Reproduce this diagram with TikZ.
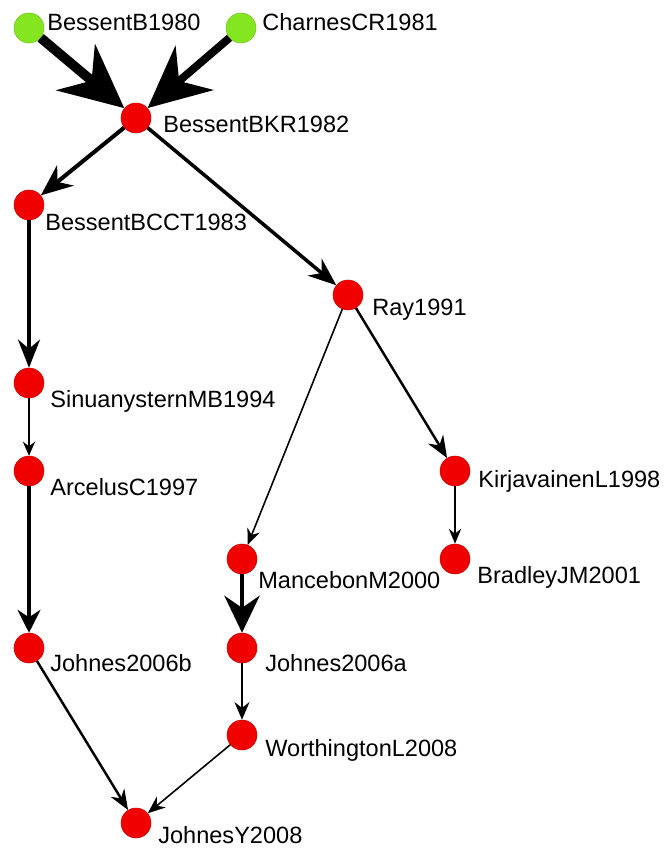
\documentclass[tikz,border=0pt]{standalone}
\usepackage{fontspec}
\setmainfont{Liberation Sans}
\definecolor{seedgreen}{RGB}{132,230,32}
\definecolor{citered}{RGB}{240,0,0}
\usetikzlibrary{arrows.meta}

\begin{document}
\begin{tikzpicture}[every node/.style={font=\fontsize{13.4}{16}\selectfont},
    seed/.style={circle, fill=seedgreen, draw=seedgreen!85!black, line width=0.3pt, minimum size=0.6cm, inner sep=0pt},
    paper/.style={circle, fill=citered, draw=citered!85!black, line width=0.3pt, minimum size=0.6cm, inner sep=0pt},
    tag/.style={anchor=base west, inner sep=0pt},
    flow/.style n args={3}{line width=#1, -{Stealth[length=#2, width=#3]}}]
    \useasboundingbox (0,0) rectangle (13.28,-16.98);

    % Sources
    \node[seed] (bes80) at (0.58,-0.56) {};
    \node[tag] (bes80t) at (0.94,-0.61) {BessentB1980};
    \node[seed] (cha81) at (4.82,-0.56) {};
    \node[tag] (cha81t) at (5.24,-0.61) {CharnesCR1981};

    % Main path papers
    \node[paper] (bkr82) at (2.72,-2.36) {};
    \node[tag] (bkr82t) at (3.26,-2.65) {BessentBKR1982};
    \node[paper] (bcc83) at (0.58,-4.10) {};
    \node[tag] (bcc83t) at (0.90,-4.61) {BessentBCCT1983};
    \node[paper] (ray91) at (6.96,-5.90) {};
    \node[tag] (ray91t) at (7.44,-6.31) {Ray1991};
    \node[paper] (sin94) at (0.58,-7.66) {};
    \node[tag] (sin94t) at (1.00,-8.15) {SinuanysternMB1994};
    \node[paper] (arc97) at (0.58,-9.42) {};
    \node[tag] (arc97t) at (1.00,-9.91) {ArcelusC1997};
    \node[paper] (kir98) at (9.10,-9.42) {};
    \node[tag] (kir98t) at (9.56,-9.75) {KirjavainenL1998};
    \node[paper] (man00) at (4.84,-11.18) {};
    \node[tag] (man00t) at (5.16,-11.77) {MancebonM2000};
    \node[paper] (bra01) at (9.10,-11.18) {};
    \node[tag] (bra01t) at (9.54,-11.67) {BradleyJM2001};
    \node[paper] (joh06b) at (0.58,-12.96) {};
    \node[tag] (joh06bt) at (1.00,-13.43) {Johnes2006b};
    \node[paper] (joh06a) at (4.84,-12.96) {};
    \node[tag] (joh06at) at (5.30,-13.43) {Johnes2006a};
    \node[paper] (wor08) at (4.84,-14.70) {};
    \node[tag] (wor08t) at (5.30,-15.13) {WorthingtonL2008};
    \node[paper] (joy08) at (2.72,-16.46) {};
    \node[tag] (joy08t) at (3.16,-16.86) {JohnesY2008};

    % Citation flows
    \draw[flow={5.5pt}{36pt}{34pt}] (bes80) -- (bkr82);
    \draw[flow={4.5pt}{35pt}{33pt}] (cha81) -- (bkr82);
    \draw[flow={2.3pt}{18pt}{15pt}] (bkr82) -- (bcc83);
    \draw[flow={2pt}{16pt}{12.5pt}] (bkr82) -- (ray91);
    \draw[flow={2.1pt}{16pt}{12.5pt}] (bcc83) -- (sin94);
    \draw[flow={0.9pt}{8pt}{7pt}] (sin94) -- (arc97);
    \draw[flow={2pt}{13pt}{13pt}] (arc97) -- (joh06b);
    \draw[flow={0.9pt}{9pt}{7.5pt}] (ray91) -- (man00);
    \draw[flow={1.4pt}{12.5pt}{10pt}] (ray91) -- (kir98);
    \draw[flow={0.9pt}{8.5pt}{7pt}] (kir98) -- (bra01);
    \draw[flow={2.8pt}{21pt}{20pt}] (man00) -- (joh06a);
    \draw[flow={1.1pt}{10pt}{8.5pt}] (joh06a) -- (wor08);
    \draw[flow={1.4pt}{11.5pt}{9pt}] (joh06b) -- (joy08);
    \draw[flow={0.9pt}{10pt}{8pt}] (wor08) -- (joy08);
\end{tikzpicture}
\end{document}
